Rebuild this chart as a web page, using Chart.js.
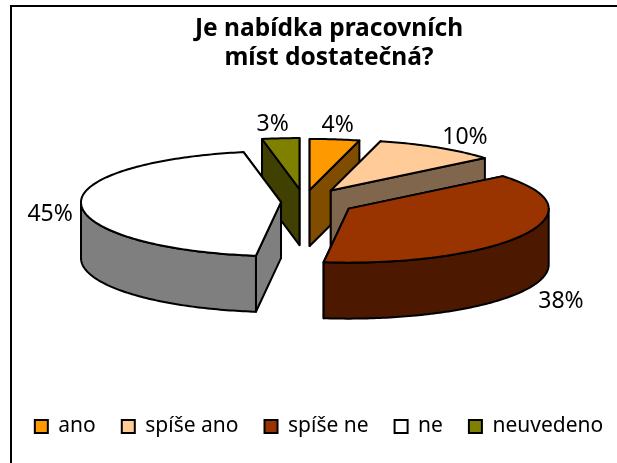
<!DOCTYPE html>
<html><head><meta charset="utf-8">
<style>html,body{margin:0;padding:0;background:#fff}#w{width:617px;height:463px}</style>
<script src="https://cdn.jsdelivr.net/npm/chart.js@4"></script></head>
<body><div id="w"><canvas id="c" width="617" height="463"></canvas></div>
<script>
const categories = ["ano","spíše ano","spíše ne","ne","neuvedeno"];
const percentValues = [4,10,38,45,3];
const sliceColors = ["#ff9900","#ffcc99","#993300","#ffffff","#808000"];
const explodeDistance = [45,50,51,23,48];
const titleLines = ["Je nabídka pracovních","míst dostatečná?"];
const labelNudge = [[3,-14],[27,-10],[37,11],[-31,11],[-8,-14]];
const pie3d = {cx:304, cy:202, rx:200, ryFront:54, ryBack:51, depth:56, line:2};
const labelFont = '23px "Noto Sans"';

function half(hex){
  const n=parseInt(hex.slice(1),16);
  return `rgb(${(n>>16&255)>>1},${(n>>8&255)>>1},${(n&255)>>1})`;
}
const piePlugin = {
  id:'pie3d',
  afterLayout(chart){
    chart.titleBlock.left+=20;
  },
  beforeDraw(chart){
    const c=chart.ctx;
    c.save();c.fillStyle='#fff';c.fillRect(0,0,chart.width,chart.height);
    c.strokeStyle='#000';c.lineWidth=2;
    c.beginPath();c.moveTo(11,463);c.lineTo(11,6);c.lineTo(617,6);c.stroke();c.restore();
  },
  beforeDatasetDraw(chart,args){
    const c=chart.ctx, arcs=chart.getDatasetMeta(args.index).data, P=pie3d;
    const geo=arcs.map((a,i)=>{
      const mid=(a.startAngle+a.endAngle)/2, off=a.options.offset||0;
      return {i,a,ax:P.cx+Math.cos(mid)*off, ay:P.cy+Math.sin(mid)*off*P.ryFront/P.rx,
              color:a.options.backgroundColor};
    }).sort((p,q)=>p.ay-q.ay);
    const pt=(g,t,d=0)=>{
      const st=Math.sin(t);
      return [g.ax+Math.cos(t)*P.rx, g.ay+st*(st<0?P.ryBack:P.ryFront)+d];
    };
    const rim=(g,a,b,d)=>{
      const n=Math.max(2,Math.ceil(Math.abs(b-a)*60));
      for(let k=0;k<=n;k++){const q=pt(g,a+(b-a)*k/n,d);c.lineTo(q[0],q[1]);}
    };
    c.save();
    c.lineWidth=P.line;c.strokeStyle='#000';c.lineJoin='round';
    for(const g of geo){
      const s=g.a.startAngle,e=g.a.endAngle;
      c.fillStyle=half(g.color);
      const faces=[s,e].sort((u,v)=>Math.sin(u)-Math.sin(v));
      for(const t of faces){
        const q=pt(g,t);
        c.beginPath();c.moveTo(g.ax,g.ay);c.lineTo(q[0],q[1]);c.lineTo(q[0],q[1]+P.depth);
        c.lineTo(g.ax,g.ay+P.depth);c.closePath();c.fill();c.stroke();
      }
      const w0=Math.max(s,0),w1=Math.min(e,Math.PI);
      if(w1>w0){
        c.beginPath();
        rim(g,w0,w1,0);rim(g,w1,w0,P.depth);
        c.closePath();c.fill();c.stroke();
      }
      c.fillStyle=g.color;
      c.beginPath();c.moveTo(g.ax,g.ay);
      rim(g,s,e,0);
      c.closePath();c.fill();c.stroke();
    }
    c.fillStyle='#000';c.font=labelFont;c.textAlign='center';c.textBaseline='middle';
    for(const g of geo){
      const mid=(g.a.startAngle+g.a.endAngle)/2,q=pt(g,mid,Math.sin(mid)>0.4?P.depth:0),n=labelNudge[g.i];
      c.fillText(percentValues[g.i]+'%',q[0]+n[0],q[1]+n[1]);
    }
    c.restore();
    return false;
  }
};
new Chart(document.getElementById('c'),{
  type:'pie',
  data:{labels:categories,datasets:[{data:percentValues,backgroundColor:sliceColors,borderColor:'#000',borderWidth:2,offset:explodeDistance}]},
  options:{
    responsive:false,animation:false,
    layout:{padding:{left:-1,right:-22,top:14,bottom:16}},
    plugins:{
      tooltip:{enabled:false},
      title:{display:true,text:titleLines,color:'#000',font:{family:'"Noto Sans"',size:24.5,weight:'bold',lineHeight:1.2},padding:{top:0,bottom:8}},
      legend:{position:'bottom',labels:{color:'#000',font:{family:'"Noto Sans"',size:21},boxWidth:13,boxHeight:13,padding:26}}
    }
  },
  plugins:[piePlugin]
});
</script></body></html>
